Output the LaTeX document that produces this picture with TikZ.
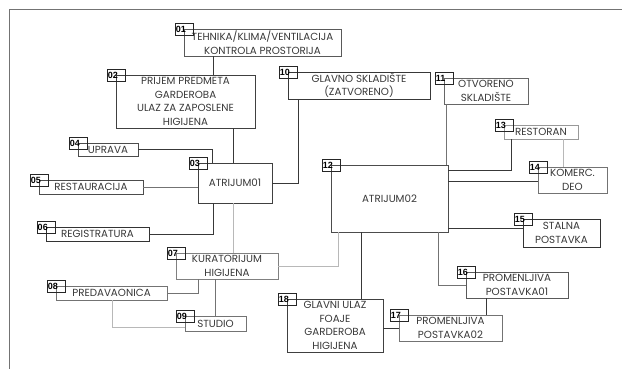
\documentclass[tikz,border=0pt]{standalone}
\usepackage{fontspec}
\setmainfont{Poppins}
\newfontfamily\numfont{Liberation Sans}
\begin{document}
\begin{tikzpicture}[x=1pt,y=-1pt,
  cdark/.style={draw=black!78},
  cmid/.style={draw=black!55},
  clight/.style={draw=black!28},
  conn/.style={line width=0.8pt},
  box/.style={draw=#1, line width=0.8pt, inner sep=0pt, align=center,
    font=\fontsize{10.3}{13.6}\selectfont, text=black!78},
  box/.default=black!70,
  num/.style={draw=black!85, line width=0.7pt, inner xsep=0.8pt, inner ysep=0pt,
    text width=16.4pt, minimum height=12pt, align=left, anchor=north west,
    font=\numfont\bfseries\fontsize{9}{9}\selectfont}
]
\useasboundingbox (0,0) rectangle (622,369);
% frame
\draw[black!55, line width=0.8pt] (9,369) -- (9,9) -- (622,9);

% main boxes
\node[box=black!65, minimum width=157pt, minimum height=27pt] (b01) at (262.5,42.5) {TEHNIKA/KLIMA/VENTILACIJA\\KONTROLA PROSTORIJA};
\node[box=black!75, minimum width=139pt, minimum height=53pt] (b02) at (185.5,101.5) {PRIJEM PREDMETA\\GARDEROBA\\ULAZ ZA ZAPOSLENE\\HIGIJENA};
\node[box=black!75, minimum width=74pt, minimum height=40pt] (b03) at (235,183) {ATRIJUM01};
\node[box=black!70, minimum width=60pt, minimum height=13pt] (b04) at (108,149.5) {UPRAVA};
\node[box=black!70, minimum width=104pt, minimum height=14pt] (b05) at (91,187) {RESTAURACIJA};
\node[box=black!80, minimum width=103pt, minimum height=14pt] (b06) at (97.5,234) {REGISTRATURA};
\node[box=black!50, minimum width=102pt, minimum height=26pt] (b07) at (227,266) {KURATORIJUM\\HIGIJENA};
\node[box=black!55, minimum width=111pt, minimum height=14pt] (b08) at (111.5,293) {PREDAVAONICA};
\node[box=black!55, minimum width=61pt, minimum height=15pt] (b09) at (215.5,323.5) {STUDIO};
\node[box=black!78, minimum width=142pt, minimum height=27pt] (b10) at (359,85.5) {GLAVNO SKLADIŠTE\\(ZATVORENO)};
\node[box=black!60, minimum width=84pt, minimum height=26pt] (b11) at (486,91) {OTVORENO\\SKLADIŠTE};
\node[box=black!70, minimum width=117pt, minimum height=67pt] (b12) at (389.5,198.5) {ATRIJUM02};
\node[box=black!40, minimum width=74pt, minimum height=14pt] (b13) at (541,132) {RESTORAN};
\node[box=black!55, minimum width=69pt, minimum height=26pt] (b14) at (572.5,180) {KOMERC.\\DEO};
\node[box=black!80, minimum width=77pt, minimum height=28pt] (b15) at (561.5,233) {STALNA\\POSTAVKA};
\node[box=black!65, minimum width=102pt, minimum height=26pt] (b16) at (517,285) {PROMENLJIVA\\POSTAVKA01};
\node[box=black!55, minimum width=103pt, minimum height=26pt] (b17) at (450.5,328) {PROMENLJIVA\\POSTAVKA02};
\node[box=black!75, minimum width=96pt, minimum height=53pt] (b18) at (335,325.5) {GLAVNI ULAZ\\FOAJE\\GARDEROBA\\HIGIJENA};

% number tags
\foreach \k in {01,02,03,04,05,06,07,08,09,10,11,12,13,14,15,16,17,18}{
  \node[num] (n\k) at ([shift={(-9,-6)}]b\k.north west) {\k};
}

% connectors
\draw[conn,cdark] (b01.south -| 213,0) -- (b02.north -| 213,0);
\draw[conn,cdark] (b02.south -| 233,0) -- (b03.north -| 233,0);
\draw[conn,cdark] (b04.east) -| (b03.north -| 212,0);
\draw[conn,cmid] (b05.east) -- (b03.west |- b05.east);
\draw[conn,cdark] (b06.east) -| (b03.south -| 213,0);
\draw[conn,cdark] (b10.south -| 298,0) |- (b03.east);
\draw[conn,clight] (b03.south -| 233,0) -- (b07.north -| 233,0);
\draw[conn,cmid] (b08.east) -| (b07.south -| 198,0);
\draw[conn,cmid] (b07.south -| 215,0) -- (b09.north -| 215,0);
\draw[conn,clight] (b08.south -| 112,0) |- (b09.west |- 0,327);
\draw[conn,clight] (b12.south -| 338,0) |- (b07.east);
\draw[conn,cdark] (b12.south -| 361,0) -- (b18.north -| 361,0);
\draw[conn,cmid] (b11.south -| 446,0) -- (b12.north -| 446,0);
\draw[conn,cdark] (b12.east |- 0,170) -| (b13.south -| 511,0);
\draw[conn,clight] (b13.south -| 563,0) -- (b14.north -| 563,0);
\draw[conn,cdark] (b12.east |- 0,181) -- (b14.west |- 0,181);
\draw[conn,cdark] (b12.east |- 0,228) -- (b15.west |- 0,228);
\draw[conn,cmid] (b12.south -| 438,0) |- (b16.west);
\draw[conn,cdark] (b16.south -| 486,0) -- (b17.north -| 486,0);
\draw[conn,cdark] (b18.east |- b17.west) -- (b17.west);
\end{tikzpicture}
\end{document}
